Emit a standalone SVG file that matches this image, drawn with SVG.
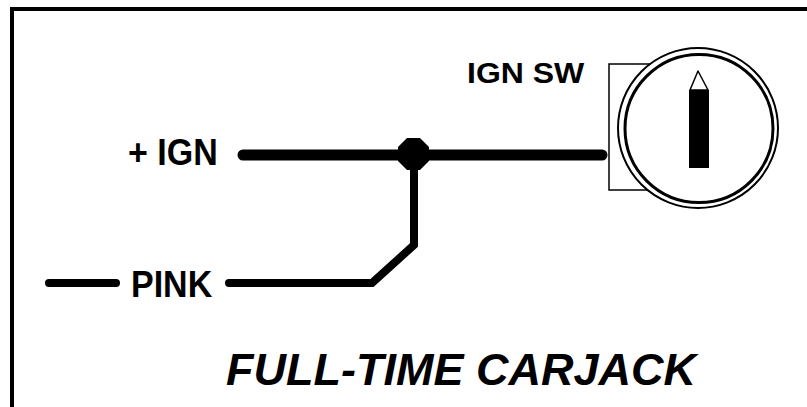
<svg xmlns="http://www.w3.org/2000/svg" width="807" height="407" viewBox="0 0 807 407">
<style>
.lbl{font-family:"Liberation Sans",Arial,sans-serif;font-weight:bold;fill:#000}
.wire{fill:none;stroke:#000;stroke-linecap:round}
</style>
<rect width="807" height="407" fill="#fff"/>
<path d="M12,409 V9 H809" fill="none" stroke="#000" stroke-width="4"/>
<g id="connectors">
<line class="wire" x1="243" y1="155" x2="602" y2="155" stroke-width="11"/>
<path class="wire" d="M414,160 V245 L372,283 H229" stroke-width="8" stroke-linejoin="miter"/>
<line class="wire" x1="49" y1="283" x2="116" y2="283" stroke-width="8"/>
</g>
<g id="junction">
<polygon points="407,138 420,138 429,147 429,161 420,170 407,170 398,161 398,147" fill="#000"/>
</g>
<g id="label-ign">
<text class="lbl" font-size="34" transform="translate(128,165) scale(1,1.1)">+ IGN</text>
</g>
<g id="label-pink">
<text class="lbl" font-size="34" transform="translate(131,297) scale(1,1.08)">PINK</text>
</g>
<g id="ign-sw">
<text class="lbl" font-size="32" transform="translate(467,83) scale(1,0.93)">IGN SW</text>
<rect x="609" y="64" width="90" height="126" fill="#fff" stroke="#000" stroke-width="1.5"/>
<circle cx="698" cy="128" r="80" fill="#fff" stroke="#000" stroke-width="2"/>
<circle cx="699" cy="128.5" r="74" fill="#fff" stroke="#000" stroke-width="3"/>
<rect x="689" y="90" width="20" height="78" fill="#000"/>
<polygon points="698,71 708,90 690,90" fill="#fff" stroke="#000" stroke-width="1.5" stroke-linejoin="round"/>
</g>
<g id="title">
<text class="lbl" x="226" y="385" font-size="45" font-style="italic">FULL-TIME CARJACK</text>
</g>
</svg>
